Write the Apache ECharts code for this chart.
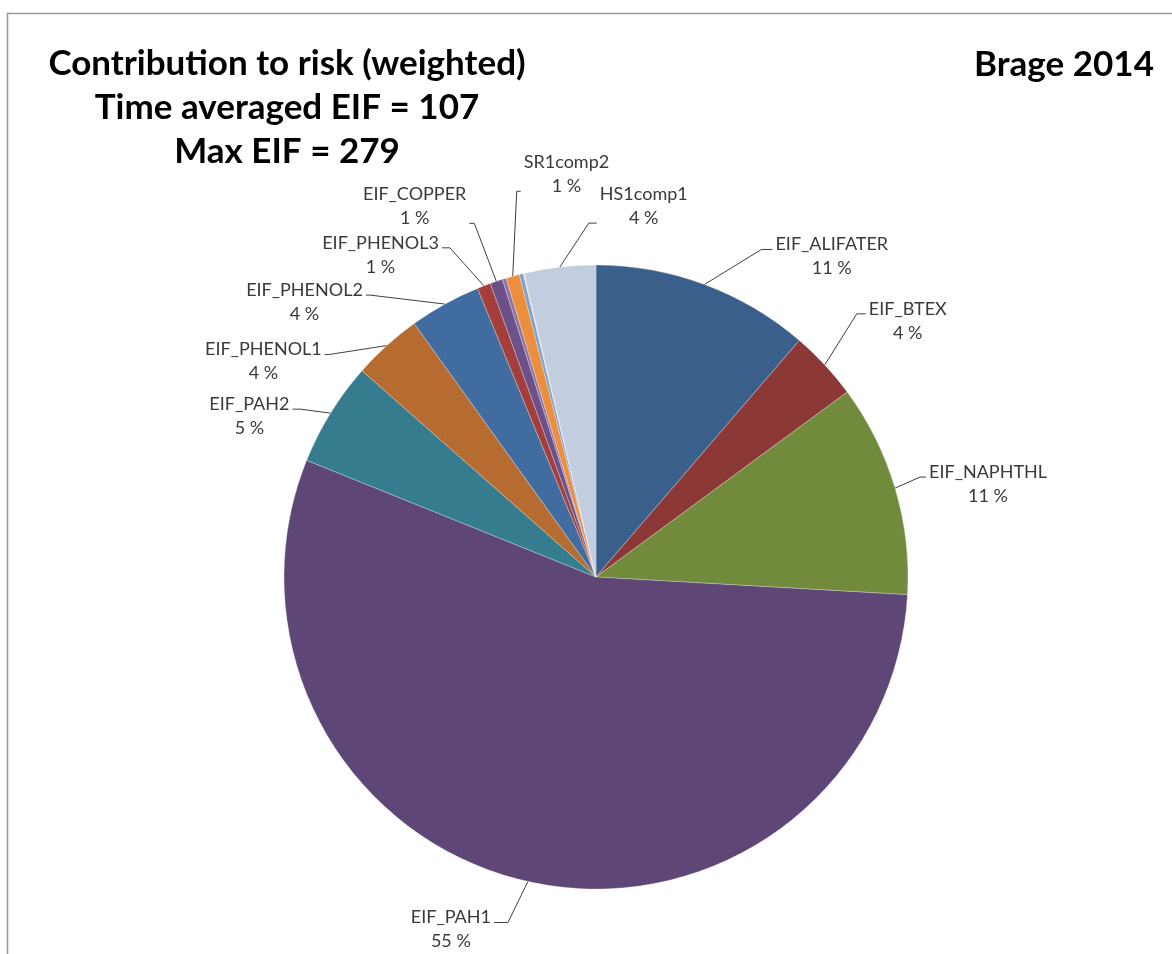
<!DOCTYPE html>
<html>
<head>
<meta charset="utf-8">
<title>Contribution to risk (weighted) – Brage 2014</title>
<script src="https://cdn.jsdelivr.net/npm/echarts@6/dist/echarts.min.js"></script>
<style>
  html, body { margin: 0; padding: 0; background: #ffffff; }
  #chart { width: 1172px; height: 954px; }
</style>
</head>
<body>
<div id="chart"></div>
<script>
// Risk contribution per component (percent of time-averaged EIF), clockwise from 12 o'clock
const categories = [
  'EIF_ALIFATER', 'EIF_BTEX', 'EIF_NAPHTHL', 'EIF_PAH1', 'EIF_PAH2',
  'EIF_PHENOL1', 'EIF_PHENOL2', 'EIF_PHENOL3', 'EIF_COPPER', 'Other 1',
  'SR1comp2', 'Other 2', 'Other 3', 'HS1comp1'
];
const shares = [11.3, 3.6, 11.0, 55.2, 5.4, 3.6, 3.7, 0.7, 0.65, 0.2, 0.7, 0.2, 0.05, 3.7];
const labelled = [true, true, true, true, true, true, true, true, true, false, true, false, false, true];

const titleLines = ['Contribution to risk (weighted)', 'Time averaged EIF = 107', 'Max EIF = 279'];
const caseName = 'Brage 2014';

// Slice palette
const colours = [
  '#3a5f8b', '#8b3836', '#718a3c', '#5e4676', '#357c8f', '#b66b31', '#416ca0',
  '#a43e3a', '#6b5187', '#8c73a8', '#eb8f3f', '#7e9fd0', '#e6d8a8', '#c2cde0'
];

// Pie geometry
const CX = 596, CY = 577, R = 312;
const LINE_H = 24;

// Leader line routing per label: offset of the elbow from the slice edge,
// horizontal run, and which text row (0 = name, 1 = percent) it meets.
const leader = [
  { dx: 57, dy: -35, h: 11, row: 0 },
  { dx: 32, dy: -51, h: 9, row: 0 },
  { dx: 25, dy: -11, h: 6, row: 0 },
  { dx: -20, dy: 41, h: -14, row: 0 },
  { dx: -30, dy: -4, h: -8, row: 0 },
  { dx: -58, dy: 9, h: -4, row: 0 },
  { dx: -75, dy: -9, h: -4, row: 0 },
  { dx: -34, dy: -38, h: -8, row: 0 },
  { dx: -22, dy: -58, h: -5, row: 1 },
  null,
  { dx: 4, dy: -85, h: 4, row: 1 },
  null,
  null,
  { dx: 29, dy: -44, h: 8, row: 1 }
];

const total = shares.reduce((a, b) => a + b, 0);
const midAngles = [];
let acc = 0;
shares.forEach(v => {
  midAngles.push(2 * Math.PI * (acc + v / 2) / total);
  acc += v;
});

const data = categories.map((name, i) => ({
  name: name,
  value: shares[i],
  itemStyle: { color: colours[i] },
  label: { show: labelled[i] },
  labelLine: { show: labelled[i] }
}));

const chart = echarts.init(document.getElementById('chart'), null, { renderer: 'canvas' });

chart.setOption({
  backgroundColor: '#ffffff',
  animation: false,
  title: [
    {
      text: titleLines.join('\n'),
      left: 282,
      top: 37,
      textAlign: 'center',
      textStyle: {
        fontFamily: 'Lato',
        fontWeight: 'bold',
        fontSize: 35,
        lineHeight: 44,
        color: '#000000'
      }
    },
    {
      text: caseName,
      left: 1059,
      top: 42,
      textAlign: 'center',
      textStyle: {
        fontFamily: 'Lato',
        fontWeight: 'bold',
        fontSize: 35,
        color: '#000000'
      }
    }
  ],
  graphic: [
    {
      type: 'polyline',
      shape: { points: [[7.5, 960], [7.5, 13.5], [1180, 13.5]] },
      style: { stroke: '#9a9a9a', lineWidth: 1.5, fill: null },
      silent: true
    }
  ],
  series: [
    {
      type: 'pie',
      center: [CX, CY],
      radius: R,
      startAngle: 90,
      clockwise: true,
      avoidLabelOverlap: false,
      data: data,
      itemStyle: {
        borderColor: 'rgba(255,255,255,0.45)',
        borderWidth: 0.6
      },
      label: {
        position: 'outside',
        formatter: p => p.name + '\n' + Math.round(p.percent) + ' %',
        fontFamily: 'Lato',
        fontSize: 18,
        lineHeight: LINE_H,
        color: '#3a3a3a'
      },
      labelLine: {
        show: true,
        smooth: false,
        lineStyle: { color: '#404040', width: 1 }
      },
      labelLayout: function (params) {
        const i = params.dataIndex;
        const cfg = leader[i];
        if (!cfg) return {};
        const a = midAngles[i];
        const ax = CX + R * Math.sin(a);
        const ay = CY - R * Math.cos(a);
        const ex = ax + cfg.dx;
        const ey = ay + cfg.dy;
        const tx = ex + cfg.h;
        const ty = ey;
        const side = cfg.h >= 0 ? 1 : -1;
        const w = params.labelRect.width;
        const top = ty - 5 - (cfg.row + 0.5) * LINE_H;
        return {
          x: tx + side * (3 + w / 2),
          y: top,
          align: 'center',
          verticalAlign: 'top',
          labelLinePoints: [[ax, ay], [ex, ey], [tx, ty]]
        };
      }
    }
  ]
});
</script>
</body>
</html>
